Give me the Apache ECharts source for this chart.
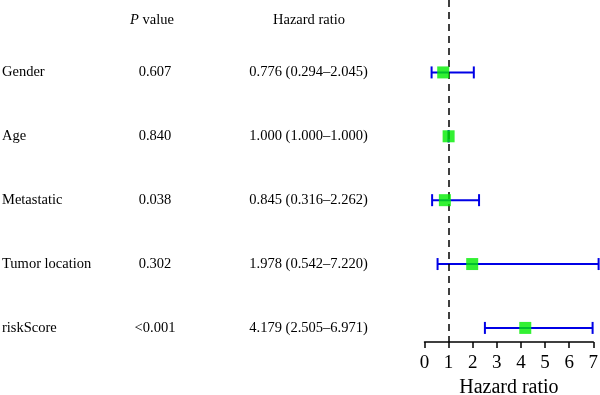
<!DOCTYPE html>
<html><head><meta charset="utf-8">
<script src="https://cdn.jsdelivr.net/npm/echarts@6/dist/echarts.min.js"></script>
<style>html,body{margin:0;padding:0;background:#fff}#c{width:600px;height:395px}</style>
</head><body><div id="c"></div>
<script>
const variables = ['Gender','Age','Metastatic','Tumor location','riskScore'];
const pValues = ['0.607','0.840','0.038','0.302','<0.001'];
const hr = [0.776, 1.000, 0.845, 1.978, 4.179];
const lower = [0.294, 1.000, 0.316, 0.542, 2.505];
const upper = [2.045, 1.000, 2.262, 7.220, 6.971];
const hrText = ['0.776 (0.294\u20132.045)','1.000 (1.000\u20131.000)','0.845 (0.316\u20132.262)','1.978 (0.542\u20137.220)','4.179 (2.505\u20136.971)'];
const xTicks = [0,1,2,3,4,5,6,7];

const FONT = '"Liberation Serif", "DejaVu Serif", serif';
const chart = echarts.init(document.getElementById('c'));
const rows = variables.map((v,i)=>i+1);
const yMin = -0.1339, yMax = 5.2205;

chart.setOption({
  animation:false,
  grid:{left:424.5, right:6.7, top:0, bottom:53, containLabel:false, outerBoundsMode:'none'},
  xAxis:{type:'value', min:0, max:7, interval:1, position:'bottom',
    axisLine:{show:true, onZero:false, lineStyle:{color:'#000', width:1.5}},
    axisTick:{show:true, length:6, lineStyle:{color:'#000', width:1.5}},
    axisLabel:{color:'#000', fontFamily:FONT, fontSize:19, margin:12, formatter:v=>String(xTicks[v])},
    splitLine:{show:false},
    name:'Hazard ratio', nameLocation:'middle', nameGap:36,
    nameTextStyle:{color:'#000', fontFamily:FONT, fontSize:20}},
  yAxis:{type:'value', inverse:true, min:yMin, max:yMax, show:false},
  graphic:[
    {type:'text', position:[152,20], style:{text:'{i|P} value', textAlign:'center', textVerticalAlign:'middle', fill:'#000', font:'14.5px '+FONT,
      rich:{i:{fontStyle:'italic', fontFamily:FONT, fontSize:14.5}}}},
    {type:'text', position:[309,20], style:{text:'Hazard ratio', textAlign:'center', textVerticalAlign:'middle', fill:'#000', font:'14.5px '+FONT}}
  ],
  series:[
    {type:'custom', silent:true, clip:false,
      data: rows.map((r,i)=>[lower[i], upper[i], r]),
      renderItem:function(params, api){
        const y = api.value(2);
        const p1 = api.coord([api.value(0), y]);
        const p2 = api.coord([api.value(1), y]);
        const ch = 6;
        const st = {stroke:'#0000e6', lineWidth:2};
        return {type:'group', children:[
          {type:'line', shape:{x1:p1[0], y1:p1[1], x2:p2[0], y2:p2[1]}, style:st},
          {type:'line', shape:{x1:p1[0], y1:p1[1]-ch, x2:p1[0], y2:p1[1]+ch}, style:st},
          {type:'line', shape:{x1:p2[0], y1:p2[1]-ch, x2:p2[0], y2:p2[1]+ch}, style:st}
        ]};
      },
      markLine:{silent:true, symbol:'none', label:{show:false},
        lineStyle:{color:'#000', type:[7,5], width:1.5},
        data:[[{coord:[1,yMin]},{coord:[1,yMax]}]]}
    },
    {type:'scatter', symbol:'rect', symbolSize:12, itemStyle:{color:'#00ee00'}, clip:false,
      data: rows.map((r,i)=>[hr[i], r]), z:5},
    {type:'custom', silent:true, clip:false,
      data: rows.map((r,i)=>[0, r, i]),
      renderItem:function(params, api){
        const i = api.value(2);
        const pt = api.coord([0, api.value(1)]);
        const f = '14.5px '+FONT;
        return {type:'group', children:[
          {type:'text', x:2, y:pt[1], style:{text:variables[i], textAlign:'left', textVerticalAlign:'middle', fill:'#000', font:f}},
          {type:'text', x:155, y:pt[1], style:{text:pValues[i], textAlign:'center', textVerticalAlign:'middle', fill:'#000', font:f}},
          {type:'text', x:308.5, y:pt[1], style:{text:hrText[i], textAlign:'center', textVerticalAlign:'middle', fill:'#000', font:f}}
        ]};
      }
    }
  ]
});
</script></body></html>
